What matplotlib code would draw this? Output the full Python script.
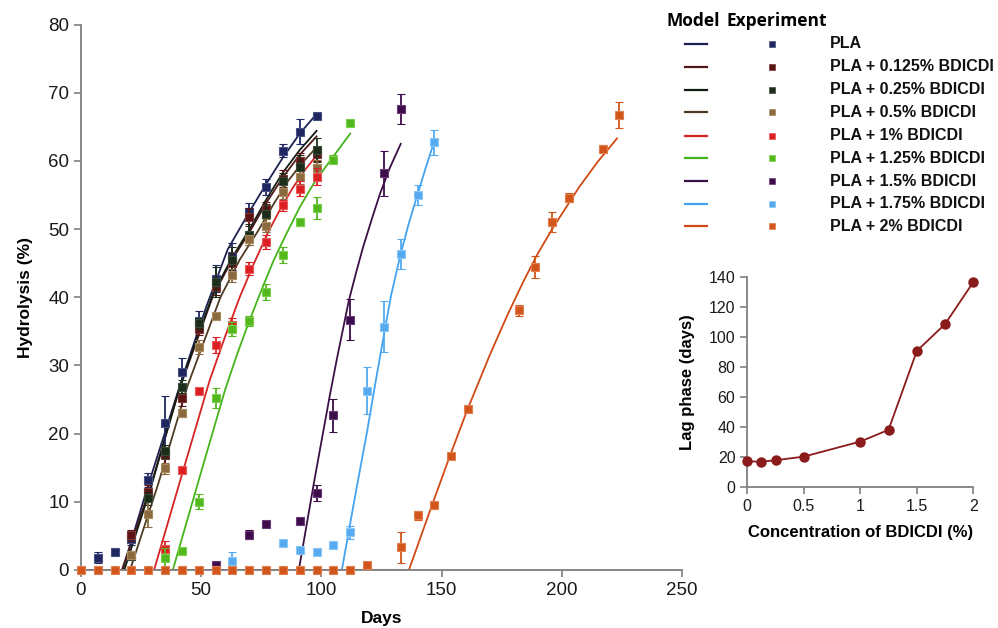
import numpy as np
import matplotlib
matplotlib.use('Agg')
import matplotlib.pyplot as plt
from matplotlib.lines import Line2D

plt.rcParams['font.family'] = ['Liberation Sans', 'DejaVu Sans']

# ---------------- data ----------------
series_names = ['PLA', 'PLA + 0.125% BDICDI', 'PLA + 0.25% BDICDI', 'PLA + 0.5% BDICDI',
                'PLA + 1% BDICDI', 'PLA + 1.25% BDICDI', 'PLA + 1.5% BDICDI',
                'PLA + 1.75% BDICDI', 'PLA + 2% BDICDI']

# experiment points
pla_days = [7, 14, 21, 28, 35, 42, 49, 56, 63, 70, 77, 84, 91, 98]
pla_vals = [1.8, 2.6, 4.6, 13.2, 21.6, 29.1, 36.5, 42.7, 46.0, 52.5, 56.2, 61.5, 64.3, 66.6]
pla_err = [0.8, 0.0, 1.0, 1.0, 3.9, 2.0, 1.5, 2.0, 2.0, 1.3, 1.2, 1.0, 1.8, 0.4]

b0125_days = [21, 28, 35, 42, 49, 56, 63, 70, 77, 84, 91, 98]
b0125_vals = [5.1, 11.5, 16.8, 25.2, 35.4, 41.5, 45.0, 51.8, 53.0, 57.4, 60.0, 61.0]
b0125_err = [0.8, 1.0, 1.2, 1.2, 1.0, 1.2, 1.5, 1.3, 1.0, 1.2, 1.2, 1.0]

b025_days = [21, 28, 35, 42, 49, 56, 63, 70, 77, 84, 91, 98]
b025_vals = [2.0, 10.5, 17.4, 26.9, 36.2, 42.2, 45.4, 49.2, 52.2, 57.0, 59.1, 61.6]
b025_err = [0.5, 1.0, 1.0, 1.0, 0.8, 2.2, 1.9, 1.5, 1.5, 1.2, 1.8, 1.8]

b05_days = [21, 28, 35, 42, 49, 56, 63, 70, 77, 84, 91, 98]
b05_vals = [2.2, 8.2, 14.9, 23.0, 32.7, 37.3, 43.2, 48.6, 50.5, 55.4, 57.6, 58.9]
b05_err = [0.3, 1.9, 0.8, 0.6, 1.0, 0.3, 0.9, 1.0, 1.0, 1.0, 1.0, 1.2]

b1_days = [35, 42, 49, 56, 63, 70, 77, 84, 91, 98]
b1_vals = [3.1, 14.6, 26.3, 33.0, 36.0, 44.2, 48.1, 53.5, 55.9, 57.7]
b1_err = [1.2, 0.3, 0.3, 1.2, 1.0, 1.0, 1.0, 0.8, 1.1, 1.3]

b125_days = [35, 42, 49, 56, 63, 70, 77, 84, 91, 98, 105, 112]
b125_vals = [1.7, 2.8, 10.0, 25.2, 35.3, 36.5, 40.8, 46.2, 51.0, 53.1, 60.2, 65.5]
b125_err = [1.5, 0.2, 1.1, 1.5, 1.0, 0.7, 1.2, 1.2, 0.5, 1.6, 0.7, 0.2]

b15_days = [56, 70, 77, 91, 98, 105, 112, 126, 133]
b15_vals = [0.8, 5.2, 6.7, 7.2, 11.3, 22.7, 36.7, 58.2, 67.6]
b15_err = [0.2, 0.6, 0.2, 0.2, 1.2, 2.4, 3.0, 3.3, 2.2]

b175_days = [63, 84, 91, 98, 105, 112, 119, 126, 133, 140, 147]
b175_vals = [1.3, 4.0, 3.0, 2.7, 3.6, 5.5, 26.3, 35.7, 46.4, 55.0, 62.7]
b175_err = [1.3, 0.2, 0.2, 0.2, 0.2, 1.0, 3.4, 3.8, 2.2, 1.5, 1.8]

b2_days = [0, 7, 14, 21, 28, 35, 42, 49, 56, 63, 70, 77, 84, 91, 98, 105, 112,
           119, 133, 140, 147, 154, 161, 182, 189, 196, 203, 217, 224]
b2_vals = [0, 0, 0, 0, 0, 0, 0, 0, 0, 0, 0, 0, 0, 0, 0, 0, 0,
           0.8, 3.3, 8.0, 9.6, 16.7, 23.6, 38.1, 44.4, 51.0, 54.6, 61.7, 66.7]
b2_err = [0, 0, 0, 0, 0, 0, 0, 0, 0, 0, 0, 0, 0, 0, 0, 0, 0,
          0.2, 2.3, 0.7, 0.3, 0.3, 0.3, 0.8, 1.6, 1.5, 0.7, 0.6, 1.9]

# model curves
pla_mdays = [0, 17.3, 28, 42, 52, 61, 70, 77, 84, 91, 98]
pla_mvals = [0, 0, 12.5, 28.0, 38.5, 47.0, 52.5, 56.6, 60.5, 64.0, 66.9]
b0125_mdays = [0, 17.0, 29, 41, 55, 63, 70, 77, 84, 91, 98]
b0125_mvals = [0, 0, 12.3, 26.6, 40.3, 45.6, 49.5, 53.8, 57.6, 60.9, 63.6]
b025_mdays = [0, 18.0, 29, 41, 55, 63, 70, 77, 84, 91, 98]
b025_mvals = [0, 0, 12.0, 26.8, 40.6, 45.9, 49.9, 54.3, 58.3, 61.6, 64.4]
b05_mdays = [0, 20.4, 32, 44.3, 58, 66, 73.6, 80, 86, 92, 98]
b05_mvals = [0, 0, 12.5, 27.0, 40.0, 45.5, 49.7, 53.6, 57.0, 59.7, 62.0]
b1_mdays = [0, 30.4, 42, 53.6, 60, 66, 72, 77.5, 83, 88, 93, 98]
b1_mvals = [0, 0, 14.0, 27.9, 34.3, 40.0, 45.0, 49.3, 53.0, 56.0, 58.6, 60.8]
b125_mdays = [0, 38.2, 49, 60, 65, 70, 75, 80, 85, 91, 97, 104, 112]
b125_mvals = [0, 0, 13.2, 26.5, 31.7, 36.5, 41.0, 45.3, 49.0, 53.2, 56.8, 60.2, 64.0]
b15_mdays = [0, 90.6, 97, 103.5, 106.3, 111.4, 114.5, 117.3, 121, 124.3, 128.5, 133]
b15_mvals = [0, 0, 13.0, 25.6, 30.7, 39.5, 43.7, 47.3, 51.5, 55.1, 59.0, 62.5]
b175_mdays = [0, 108.5, 114, 119, 122.5, 125.6, 129, 133, 136.5, 140, 143.5, 147]
b175_mvals = [0, 0, 10.8, 20.3, 27.5, 33.7, 40.3, 46.4, 51.0, 55.1, 59.1, 62.9]
b2_mdays = [0, 136.4, 146.3, 153, 160.6, 169.9, 177, 184, 190, 196, 202, 207.3, 215, 223]
b2_mvals = [0, 0, 9.8, 16.3, 23.4, 31.4, 37.1, 42.3, 46.4, 50.0, 53.3, 56.2, 59.9, 63.3]

# inset: lag phase
conc = [0, 0.125, 0.25, 0.5, 1, 1.25, 1.5, 1.75, 2]
lag = [17.3, 17.0, 18.0, 20.4, 30.4, 38.2, 90.6, 108.5, 136.4]

main_xticks = [0, 50, 100, 150, 200, 250]
main_yticks = [0, 10, 20, 30, 40, 50, 60, 70, 80]
inset_xticks = [0, 0.5, 1, 1.5, 2]
inset_xticklabels = ['0', '0.5', '1', '1.5', '2']
inset_yticks = [0, 20, 40, 60, 80, 100, 120, 140]

# ---------------- styles ----------------
line_colors = ['#1c2152', '#4e1a1a', '#121c12', '#4f3a22', '#d42424', '#45b51b',
               '#3a1046', '#43a3f0', '#cf4a14']
marker_colors = ['#1f2660', '#5c1212', '#1c2e1a', '#8a6a3e', '#dc1f23', '#52b81e',
                 '#3e0c4a', '#55aaf0', '#d2561c']
edge_colors = ['#44507f', '#7a3a3a', '#3a4a38', '#a88a5c', '#e85a5a', '#7ad04a',
               '#6a3a78', '#8cc8f5', '#e08050']

exp_days = [pla_days, b0125_days, b025_days, b05_days, b1_days, b125_days,
            b15_days, b175_days, b2_days]
exp_vals = [pla_vals, b0125_vals, b025_vals, b05_vals, b1_vals, b125_vals,
            b15_vals, b175_vals, b2_vals]
exp_errs = [pla_err, b0125_err, b025_err, b05_err, b1_err, b125_err,
            b15_err, b175_err, b2_err]
mod_days = [pla_mdays, b0125_mdays, b025_mdays, b05_mdays, b1_mdays, b125_mdays,
            b15_mdays, b175_mdays, b2_mdays]
mod_vals = [pla_mvals, b0125_mvals, b025_mvals, b05_mvals, b1_mvals, b125_mvals,
            b15_mvals, b175_mvals, b2_mvals]

W, H = 998, 628
fig = plt.figure(figsize=(W / 100, H / 100), dpi=100)
fig.patch.set_facecolor('white')

spine_col = '#7f7f7f'

ax = fig.add_axes([81 / W, 1 - 570 / H, (682 - 81) / W, (570 - 24.5) / H])
for s in ['top', 'right']:
    ax.spines[s].set_visible(False)
for s in ['left', 'bottom']:
    ax.spines[s].set_color(spine_col)
    ax.spines[s].set_linewidth(1.3)

for i in range(len(series_names)):
    ax.plot(mod_days[i], mod_vals[i], color=line_colors[i], lw=1.3, zorder=2)
for i in range(len(series_names)):
    z = 6 if i == 8 else 3 + i * 0.1
    ax.errorbar(exp_days[i], exp_vals[i], yerr=exp_errs[i], fmt='s', ms=6.4,
                mfc=marker_colors[i], mec=edge_colors[i], mew=0.8,
                ecolor=marker_colors[i], elinewidth=1.3, capsize=3, capthick=1.3,
                zorder=z, clip_on=False)

ax.set_xlim(0, 250)
ax.set_ylim(0, 80)
ax.set_xticks(main_xticks)
ax.set_yticks(main_yticks)
ax.tick_params(direction='out', length=5, width=1.2, color=spine_col,
               labelsize=13.5, labelcolor='#1a1a1a')
ax.set_xlabel('Days', fontsize=12.5, fontweight='bold', labelpad=9)
ax.set_ylabel('Hydrolysis (%)', fontsize=12.5, fontweight='bold', labelpad=11)

# ---------------- legend (drawn by hand) ----------------
def fx(px):
    return px / W

def fy(py):
    return 1 - py / H

fig.text(fx(666), fy(21.5), 'Model', fontsize=12.5, fontweight='bold',
         family=['Open Sans', 'DejaVu Sans'], va='center', ha='left')
fig.text(fx(727), fy(21.5), 'Experiment', fontsize=12.5, fontweight='bold',
         family=['Open Sans', 'DejaVu Sans'], va='center', ha='left')
row_y = [44.0, 66.8, 89.5, 112.3, 135.5, 158.2, 181.0, 203.6, 226.2]
for i, name in enumerate(series_names):
    yy = fy(row_y[i])
    fig.add_artist(Line2D([fx(685), fx(707)], [yy, yy], color=line_colors[i],
                          lw=1.6, transform=fig.transFigure))
    fig.add_artist(Line2D([fx(772)], [yy], marker='s', ms=4.2, color=marker_colors[i],
                          mec=edge_colors[i], mew=0.5, transform=fig.transFigure))
    fig.text(fx(830), yy, name, fontsize=11.5, fontweight='bold', va='center',
             ha='left', color='#111111')

# ---------------- inset ----------------
ax2 = fig.add_axes([747.3 / W, 1 - 487.3 / H, 226 / W, (487.3 - 276.7) / H])
for s in ['top', 'right']:
    ax2.spines[s].set_visible(False)
for s in ['left', 'bottom']:
    ax2.spines[s].set_color(spine_col)
    ax2.spines[s].set_linewidth(1.3)
ax2.plot(conc, lag, color='#8b1a1a', lw=1.3, marker='o', ms=6.5, mfc='#8b1a1a',
         mec='#8b1a1a', clip_on=False, zorder=3)
ax2.set_xlim(0, 2)
ax2.set_ylim(0, 140)
ax2.set_xticks(inset_xticks)
ax2.set_xticklabels(inset_xticklabels)
ax2.set_yticks(inset_yticks)
ax2.tick_params(direction='out', length=5, width=1.2, color=spine_col,
                labelsize=11.5, labelcolor='#1a1a1a')
ax2.set_xlabel('Concentration of BDICDI (%)', fontsize=12, fontweight='bold', labelpad=8)
ax2.set_ylabel('Lag phase (days)', fontsize=12, fontweight='bold', labelpad=10)

fig.savefig('out.png', dpi=100, facecolor='white')
